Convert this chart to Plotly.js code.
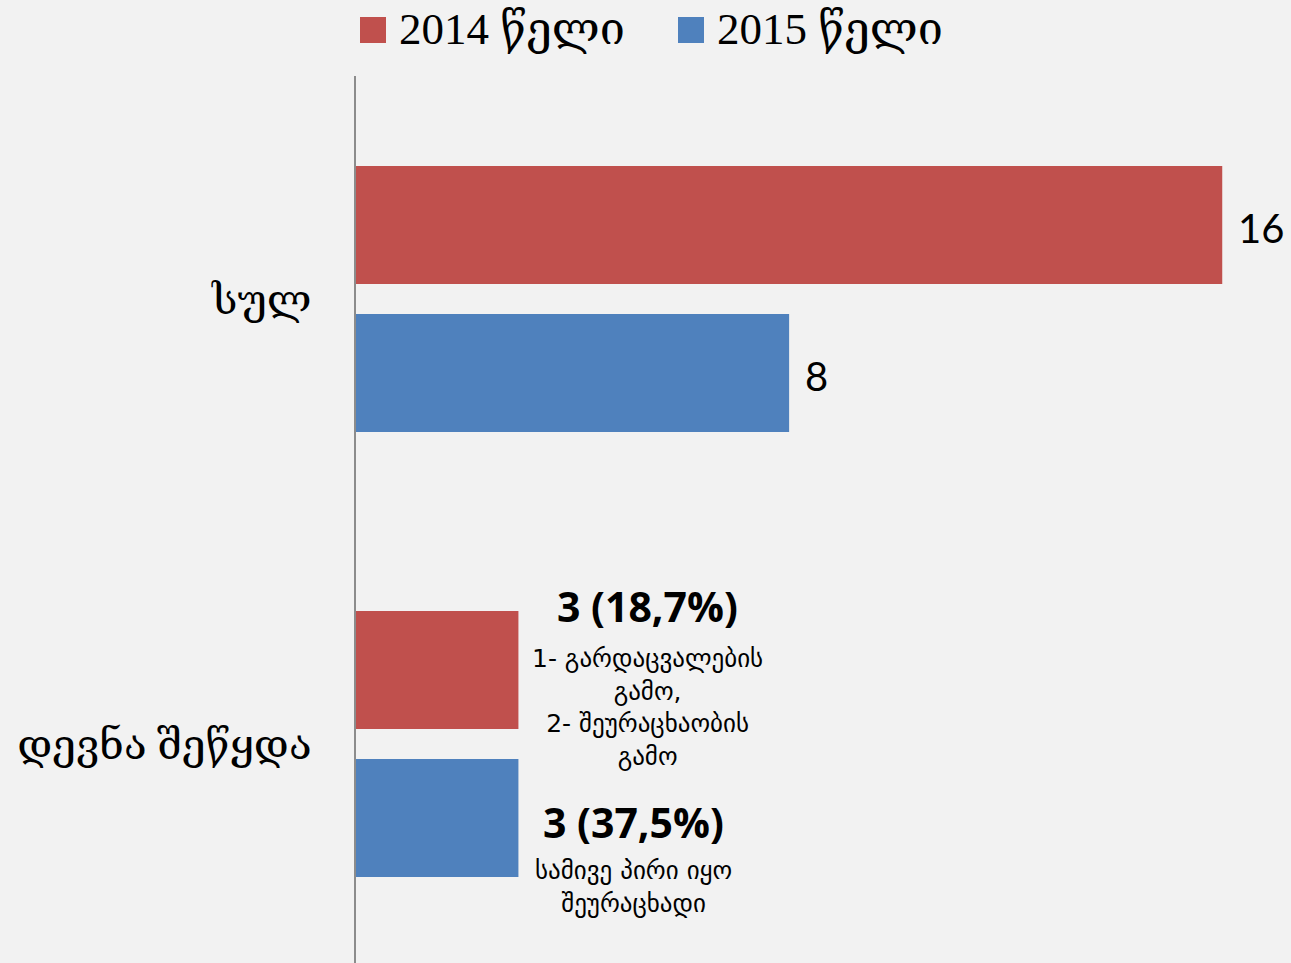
<!DOCTYPE html>
<html>
<head>
<meta charset="utf-8">
<script src="https://cdn.plot.ly/plotly-3.0.1.min.js"></script>
<style>
  html, body { margin: 0; padding: 0; background: #F2F2F2; }
  #chart { width: 1291px; height: 963px; }
</style>
</head>
<body>
<div id="chart"></div>
<script>
// categories top to bottom
const categories = ['სულ', 'დევნა შეწყდა']
const seriesNames = ['2014 წელი', '2015 წელი']
const values2014 = [16, 3]
const values2015 = [8, 3]
const seriesColors = ['#C0504D', '#4F81BD']

// plain value labels (only for the first category)
const valueLabels2014 = ['16', '']
const valueLabels2015 = ['8', '']

// the bottom category carries a headline plus a note
const headlines = ['3 (18,7%)', '3 (37,5%)']
const notes = [
    '1- გარდაცვალების<br>გამო,<br>2- შეურაცხაობის<br>გამო',
    'სამივე პირი იყო<br>შეურაცხადი'
]

const bargap = 0.335
const slot = (1 - bargap) / 2   // category units taken by one bar
const serif = 'Liberation Serif, DejaVu Serif, serif'
const sans = 'Open Sans, Lato, DejaVu Sans, sans-serif'
const geo = 'DejaVu Sans, sans-serif'

const allValues = [values2014, values2015]
const allLabels = [valueLabels2014, valueLabels2015]

const traces = allValues.map((vals, k) => ({
    type: 'bar',
    orientation: 'h',
    name: seriesNames[k],
    y: categories,
    x: vals,
    marker: { color: seriesColors[k] },
    hoverinfo: 'skip',
    showlegend: false,
}))

// bar centre on the category axis
function barCenter(i, k) {
    return i + (k - 0.5) * slot
}

const annotations = []

allLabels.forEach((labels, k) => {
    labels.forEach((t, i) => {
        if (!t) return
        annotations.push({
            x: allValues[k][i], y: barCenter(i, k), xref: 'x', yref: 'y',
            text: t, showarrow: false, xanchor: 'left', yanchor: 'middle',
            xshift: 14, yshift: -3,
            font: { family: 'Lato, Open Sans, sans-serif', size: 40, color: '#000' },
        })
    })
})

// bottom category: headline + notes for each series
const last = categories.length - 1
const headShift = [64, -4]
const noteShift = [-37, -69]
headlines.forEach((h, k) => {
    annotations.push({
        x: allValues[k][last], y: barCenter(last, k), xref: 'x', yref: 'y',
        text: '<b>' + h + '</b>', showarrow: false, xanchor: 'center', yanchor: 'middle',
        xshift: k == 0 ? 129 : 115, yshift: headShift[k],
        font: { family: sans, size: 41, color: '#000' },
    })
    annotations.push({
        x: allValues[k][last], y: barCenter(last, k), xref: 'x', yref: 'y',
        text: notes[k], showarrow: false, xanchor: 'center', yanchor: 'middle', align: 'center',
        xshift: k == 0 ? 129 : 115, yshift: noteShift[k],
        font: { family: geo, size: 25, color: '#000' },
    })
})

// legend drawn by hand so the squares can be as big as in the original
const legendX = [4, 322]
const shapes = []
seriesNames.forEach((name, k) => {
    shapes.push({
        type: 'rect', xref: 'paper', yref: 'paper',
        xsizemode: 'pixel', ysizemode: 'pixel', xanchor: 0, yanchor: 1,
        x0: legendX[k], x1: legendX[k] + 26, y0: 33, y1: 59,
        fillcolor: seriesColors[k], line: { width: 0 },
    })
    annotations.push({
        x: 0, y: 1, xref: 'paper', yref: 'paper',
        text: name, showarrow: false, xanchor: 'left', yanchor: 'middle',
        xshift: legendX[k] + 37, yshift: 47,
        font: { family: serif, size: 45, color: '#000' },
    })
})

const layout = {
    width: 1291,
    height: 963,
    margin: { l: 356, r: 0, t: 76, b: 0 },
    paper_bgcolor: '#F2F2F2',
    plot_bgcolor: '#F2F2F2',
    barmode: 'group',
    bargap: bargap,
    bargroupgap: 0.203,
    showlegend: false,
    xaxis: {
        range: [0, 17.27],
        showgrid: false,
        zeroline: false,
        showticklabels: false,
        showline: false,
        fixedrange: true,
    },
    yaxis: {
        type: 'category',
        range: [1.492, -0.501],
        showgrid: false,
        zeroline: false,
        showline: true,
        linecolor: '#8C8C8C',
        linewidth: 2,
        ticks: '',
        ticklabelstandoff: 34,
        tickfont: { family: serif, size: 42, color: '#000' },
        fixedrange: true,
    },
    shapes: shapes,
    annotations: annotations,
}

Plotly.newPlot('chart', traces, layout, { displayModeBar: false, staticPlot: true })
</script>
</body>
</html>
